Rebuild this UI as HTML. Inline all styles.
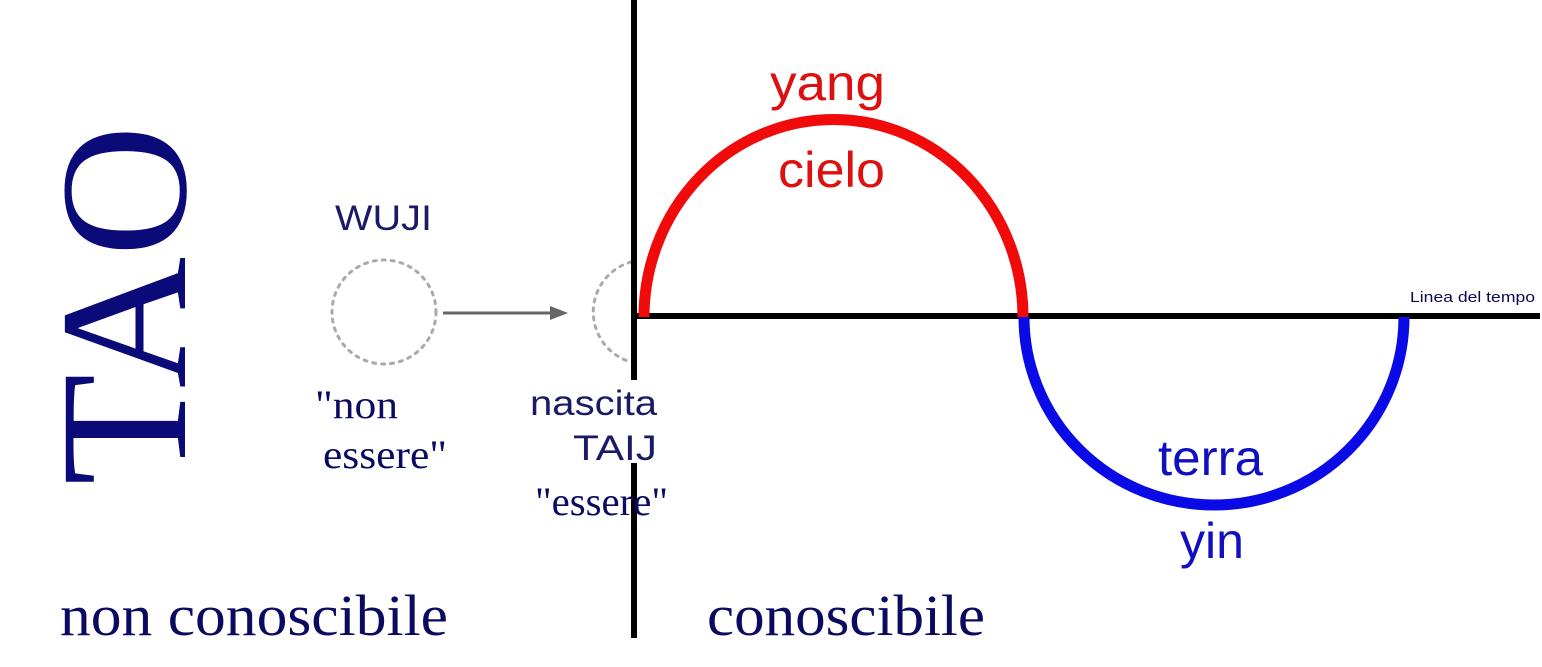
<!DOCTYPE html>
<html><head><meta charset="utf-8"><style>
html,body{margin:0;padding:0;background:#fff;}
svg{display:block;}
</style></head><body>
<svg width="1542" height="667" viewBox="0 0 1542 667" xmlns="http://www.w3.org/2000/svg">
<rect width="1542" height="667" fill="#fff"/>
<text transform="translate(185,485) rotate(-90)" font-family="Liberation Serif, serif" font-size="182" fill="#0a0a78" textLength="360" lengthAdjust="spacingAndGlyphs">TAO</text>
<circle cx="384" cy="312" r="52" fill="none" stroke="#aaa" stroke-width="3" stroke-dasharray="3,6" stroke-linecap="round"/>
<path d="M631 262 A52 52 0 0 0 631 362" fill="none" stroke="#aaa" stroke-width="3" stroke-dasharray="3,6" stroke-linecap="round"/>
<line x1="443" y1="313" x2="555" y2="313" stroke="#666" stroke-width="3"/>
<polygon points="568,313 550,306 550,320" fill="#666"/>
<rect x="631" y="0" width="6" height="380" fill="#000"/>
<rect x="631" y="463" width="6" height="175" fill="#000"/>
<rect x="631" y="313" width="909" height="6" fill="#000"/>
<path d="M644 317 A189 197 0 0 1 1023 317" fill="none" stroke="#f00a0a" stroke-width="11"/>
<path d="M1024 317 A190 188 0 0 0 1404 317" fill="none" stroke="#0a0ae6" stroke-width="11"/>
<text x="1410" y="302" font-family="Liberation Sans, sans-serif" font-size="15" fill="#0a0a50" textLength="125" lengthAdjust="spacingAndGlyphs">Linea del tempo</text>
<g font-family="Liberation Sans, sans-serif" font-size="50">
<text x="770" y="100" fill="#dd1010" textLength="115" lengthAdjust="spacingAndGlyphs">yang</text>
<text x="778" y="187" fill="#dd1010" textLength="107" lengthAdjust="spacingAndGlyphs">cielo</text>
<text x="1158" y="475" fill="#1010c0" textLength="105" lengthAdjust="spacingAndGlyphs">terra</text>
<text x="1180" y="558" fill="#1010c0" textLength="64" lengthAdjust="spacingAndGlyphs">yin</text>
</g>
<g font-family="Liberation Sans, sans-serif" font-size="35" fill="#1a1a66">
<text x="335" y="230" textLength="97" lengthAdjust="spacingAndGlyphs">WUJI</text>
<text x="530" y="415" textLength="127" lengthAdjust="spacingAndGlyphs">nascita</text>
<text x="573" y="460" textLength="84" lengthAdjust="spacingAndGlyphs">TAIJ</text>
</g>
<g font-family="Liberation Serif, serif" font-size="40" fill="#0a0a60">
<text x="315" y="418" textLength="83" lengthAdjust="spacingAndGlyphs">"non</text>
<text x="323" y="468" textLength="124" lengthAdjust="spacingAndGlyphs">essere"</text>
<text x="535" y="515" textLength="133" lengthAdjust="spacingAndGlyphs">"essere"</text>
</g>
<g font-family="Liberation Serif, serif" font-size="58" fill="#0a0a60">
<text x="60" y="635" textLength="388" lengthAdjust="spacingAndGlyphs">non conoscibile</text>
<text x="707" y="635" textLength="278" lengthAdjust="spacingAndGlyphs">conoscibile</text>
</g>
</svg>
</body></html>
